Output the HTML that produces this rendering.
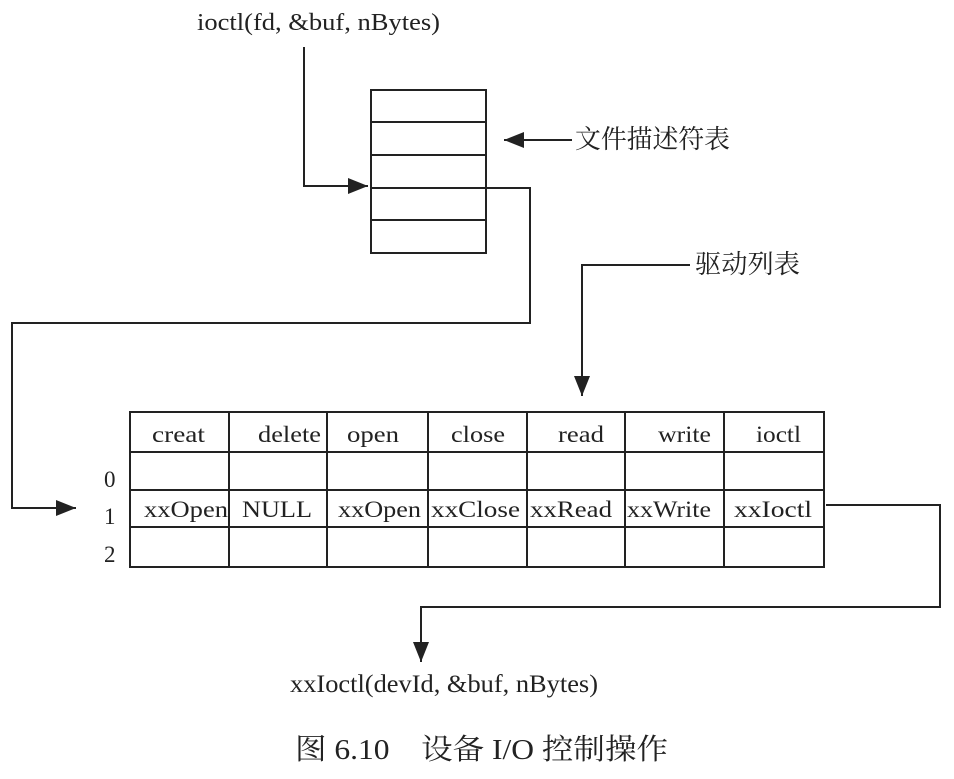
<!DOCTYPE html>
<html><head><meta charset="utf-8"><style>
html,body{margin:0;padding:0;background:#fff;}
svg text{font-family:"Liberation Serif","Noto Serif CJK SC",serif;fill:#222;}
</style></head><body>
<svg width="954" height="774" viewBox="0 0 954 774" xmlns="http://www.w3.org/2000/svg">
<defs>
<marker id="b" markerWidth="20" markerHeight="16" refX="20" refY="8" orient="auto" markerUnits="userSpaceOnUse">
<path d="M0,0 L20,8 L0,16 z" fill="#222"/></marker>
</defs>
<g stroke="#222" stroke-width="2" fill="none">
<rect x="371" y="90" width="115" height="163"/>
<line x1="371" y1="122" x2="486" y2="122"/>
<line x1="371" y1="155" x2="486" y2="155"/>
<line x1="371" y1="188" x2="486" y2="188"/>
<line x1="371" y1="220" x2="486" y2="220"/>
<polyline points="304,47 304,186 368,186" marker-end="url(#b)"/>
<line x1="572" y1="140" x2="504" y2="140" marker-end="url(#b)"/>
<polyline points="486,188 530,188 530,323 12,323 12,508 76,508" marker-end="url(#b)"/>
<polyline points="690,265 582,265 582,396" marker-end="url(#b)"/>
<rect x="130" y="412" width="694" height="155"/>
<line x1="130" y1="452" x2="824" y2="452"/>
<line x1="130" y1="490" x2="824" y2="490"/>
<line x1="130" y1="527" x2="824" y2="527"/>
<line x1="229" y1="412" x2="229" y2="567"/>
<line x1="327" y1="412" x2="327" y2="567"/>
<line x1="428" y1="412" x2="428" y2="567"/>
<line x1="527" y1="412" x2="527" y2="567"/>
<line x1="625" y1="412" x2="625" y2="567"/>
<line x1="724" y1="412" x2="724" y2="567"/>
<polyline points="826,505 940,505 940,607 421,607 421,662" marker-end="url(#b)"/>
</g>
<g font-size="23">
<text x="197" y="30" textLength="243" lengthAdjust="spacingAndGlyphs" font-size="24">ioctl(fd, &amp;buf, nBytes)</text>
<text x="575" y="148" font-size="26" textLength="155" lengthAdjust="spacingAndGlyphs">文件描述符表</text>
<text x="695" y="273" font-size="26" textLength="105" lengthAdjust="spacingAndGlyphs">驱动列表</text>
<text x="152" y="442" textLength="53" lengthAdjust="spacingAndGlyphs">creat</text>
<text x="258" y="442" textLength="63" lengthAdjust="spacingAndGlyphs">delete</text>
<text x="347" y="442" textLength="52" lengthAdjust="spacingAndGlyphs">open</text>
<text x="451" y="442" textLength="54" lengthAdjust="spacingAndGlyphs">close</text>
<text x="558" y="442" textLength="46" lengthAdjust="spacingAndGlyphs">read</text>
<text x="658" y="442" textLength="53" lengthAdjust="spacingAndGlyphs">write</text>
<text x="756" y="442" textLength="45" lengthAdjust="spacingAndGlyphs">ioctl</text>
<text x="104" y="487">0</text>
<text x="104" y="524">1</text>
<text x="104" y="562">2</text>
<text x="144" y="517" textLength="84" lengthAdjust="spacingAndGlyphs">xxOpen</text>
<text x="242" y="517" textLength="70" lengthAdjust="spacingAndGlyphs">NULL</text>
<text x="338" y="517" textLength="83" lengthAdjust="spacingAndGlyphs">xxOpen</text>
<text x="431" y="517" textLength="89" lengthAdjust="spacingAndGlyphs">xxClose</text>
<text x="530" y="517" textLength="82" lengthAdjust="spacingAndGlyphs">xxRead</text>
<text x="627" y="517" textLength="84" lengthAdjust="spacingAndGlyphs">xxWrite</text>
<text x="734" y="517" textLength="78" lengthAdjust="spacingAndGlyphs">xxIoctl</text>
<text x="290" y="692" font-size="25" textLength="308" lengthAdjust="spacingAndGlyphs">xxIoctl(devId, &amp;buf, nBytes)</text>
<text x="295" y="759" font-size="29" textLength="373" lengthAdjust="spacingAndGlyphs">图 6.10　设备 I/O 控制操作</text>
</g>
</svg>
</body></html>
